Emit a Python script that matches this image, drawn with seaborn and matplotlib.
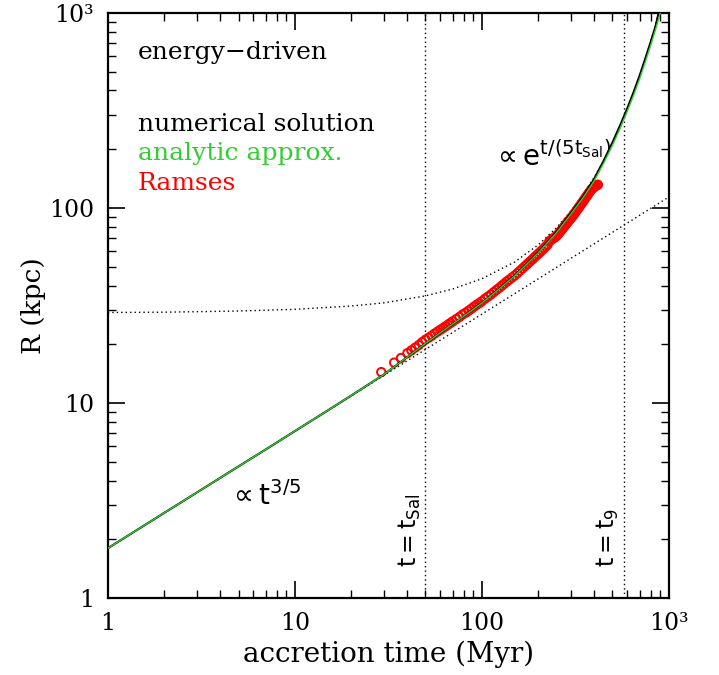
import numpy as np
import pandas as pd
import matplotlib
matplotlib.use("Agg")
import matplotlib.pyplot as plt
import seaborn as sns

# numerical solution
t_num = [1, 2, 3, 5, 7, 10, 15, 20, 30, 40, 50, 60, 70, 80, 100, 120, 150, 200,
         250, 300, 350, 400, 450, 500, 550, 600, 650, 700, 750, 800, 850, 884, 950]
r_num = [1.8, 2.73, 3.48, 4.73, 5.78, 7.17, 9.15, 10.9, 14.0, 17.2, 20.2, 22.9, 25.4,
         27.8, 32.6, 37.5, 45, 59, 75, 94, 115, 141, 175, 216, 265, 323, 393, 478,
         583, 705, 850, 1000, 1300]

# analytic approximation
t_ana = [1, 2, 3, 5, 7, 10, 15, 20, 30, 40, 50, 60, 70, 80, 100, 120, 150, 200,
         250, 300, 350, 400, 450, 500, 550, 600, 650, 700, 750, 800, 850, 900, 950]
r_ana = [1.8, 2.73, 3.48, 4.73, 5.78, 7.17, 9.15, 10.9, 14.0, 17.2, 20.2, 22.9, 25.4,
         27.8, 32.5, 37.4, 44.8, 58.6, 74.2, 93.0, 113.5, 138, 170, 209, 256, 312,
         379, 460, 560, 678, 820, 990, 1200]

# Ramses snapshots
t_ram = [29, 34, 37, 40, 42, 44, 46, 48, 50, 52, 54, 56, 58, 60, 62, 64, 66, 68,
         70, 73, 76, 79, 82, 85, 88, 91, 94, 97, 100, 104, 108, 112, 116, 120, 124,
         128, 132, 136, 140, 145, 150, 155, 160, 165, 170, 175, 180, 185, 190, 195,
         200, 205, 210, 215, 220, 225, 230, 235, 240, 245, 250, 255, 260, 265, 270,
         275, 280, 285, 290, 295, 300, 305, 310, 315, 320, 325, 330, 335, 340, 345,
         350, 355, 360, 365, 370, 375, 380, 385, 390, 395, 400, 405, 410, 415, 418]
r_ram = [14.4, 16.1, 17.0, 18.0, 18.6, 19.2, 19.8, 20.5, 21.1, 21.6, 22.1, 22.7,
         23.2, 23.7, 24.2, 24.7, 25.2, 25.7, 26.2, 26.9, 27.6, 28.4, 29.0, 29.7,
         30.4, 31.2, 31.9, 32.5, 33.2, 34.2, 35.1, 36.0, 37.0, 38.0, 38.9, 39.9,
         40.9, 41.9, 42.8, 43.9, 45.0, 46.3, 47.6, 48.9, 50.2, 51.5, 52.8, 54.1,
         55.4, 56.7, 58.0, 59.3, 60.7, 62.0, 63.4, 64.8, 67.5, 68.5, 69.5, 70.5,
         71.5, 73.0, 74.6, 76.3, 78.0, 79.8, 81.6, 83.3, 85.0, 86.8, 88.5, 90.3,
         92.2, 94.2, 96.2, 98.2, 100.2, 102.3, 104.4, 106.5, 108.6, 110.8, 113.0,
         115.2, 117.4, 119.6, 121.7, 123.8, 125.6, 127.2, 128.5, 129.5, 130.3,
         131.0, 131.5]

# asymptotes (dotted)
t_exp = [1, 2, 5, 10, 20, 30, 50, 70, 100, 150, 200, 250, 300, 350, 400, 450,
         500, 550, 600, 650, 700, 750, 800, 850, 900]
r_exp = [29.1, 29.2, 29.6, 30.2, 31.4, 32.6, 35.4, 38.4, 43.3, 52.8, 64.5, 78.8,
         96.3, 118, 143.6, 175, 214, 261, 319, 389, 476, 581, 710, 867, 1060]
t_pow = [1, 10, 100, 1000]
r_pow = [1.8, 7.17, 28.5, 113.6]

t_sal, t_9 = 50, 575

xticks = [1, 10, 100, 1000]
xlabels = ["1", "10", "100", "10³"]
yticks = [1, 10, 100, 1000]
ylabels = ["1", "10", "100", "10³"]

sns.set_style("ticks")
plt.rcParams["font.family"] = ["DejaVu Serif"]
plt.rcParams["mathtext.fontset"] = "dejavusans"
plt.rcParams.update({"text.color": "black", "axes.labelcolor": "black",
                     "xtick.color": "black", "ytick.color": "black",
                     "axes.edgecolor": "black"})

green = "#33cc33"

fig = plt.figure(figsize=(7.19, 6.75), dpi=100)
ax = fig.add_axes([0.150, 0.114, 0.780, 0.867])
ax.set_xscale("log")
ax.set_yscale("log")

dots = (0, (1, 2.2))
sns.lineplot(x=t_exp, y=r_exp, ax=ax, color="black", lw=1.0, linestyle=dots,
             sort=False, estimator=None)
sns.lineplot(x=t_pow, y=r_pow, ax=ax, color="black", lw=1.0, linestyle=dots,
             sort=False, estimator=None)
ax.axvline(t_sal, color="black", lw=1.0, linestyle=dots)
ax.axvline(t_9, color="black", lw=1.0, linestyle=dots)

sns.scatterplot(x=t_ram, y=r_ram, ax=ax, marker="o", s=36, facecolor="none",
                edgecolor="red", linewidth=1.4, zorder=3)
sns.lineplot(x=t_num, y=r_num, ax=ax, color="black", lw=1.5, zorder=4,
             sort=False, estimator=None)
sns.lineplot(x=t_ana, y=r_ana, ax=ax, color=green, lw=1.0, zorder=5,
             sort=False, estimator=None)

ax.set_xlim(1, 1000)
ax.set_ylim(1, 1000)
ax.set_xticks(xticks)
ax.set_xticklabels(xlabels)
ax.set_yticks(yticks)
ax.set_yticklabels(ylabels)
ax.tick_params(which="both", direction="in", top=True, right=True, labelsize=17)
ax.tick_params(which="major", length=12, width=1.2, pad=10)
ax.tick_params(which="minor", length=6, width=1.0)
for s in ax.spines.values():
    s.set_linewidth(1.6)

ax.set_xlabel("accretion time (Myr)", fontsize=20, labelpad=4)
ax.set_ylabel("R (kpc)", fontsize=19, labelpad=2)

tf = ax.transAxes
ax.text(0.053, 0.932, "energy\u2212driven", transform=tf, fontsize=18, va="center")
ax.text(0.053, 0.810, "numerical solution", transform=tf, fontsize=18, va="center")
ax.text(0.053, 0.760, "analytic approx.", transform=tf, fontsize=18, va="center",
        color=green)
ax.text(0.053, 0.709, "Ramses", transform=tf, fontsize=18, va="center", color="red")

ax.text(0.685, 0.755, r"$\propto \mathrm{e}^{\mathrm{t}/(5\mathrm{t}_{\mathrm{Sal}})}$",
        transform=tf, fontsize=20, va="center", family="DejaVu Sans")
ax.text(0.215, 0.175, r"$\propto \mathrm{t}^{3/5}$", transform=tf, fontsize=20,
        va="center", family="DejaVu Sans")
ax.text(t_sal * 0.97, 1.44, r"$\mathrm{t}=\mathrm{t}_{\mathrm{Sal}}$", rotation=90,
        fontsize=17, ha="right", va="bottom", family="DejaVu Sans")
ax.text(t_9 * 0.97, 1.44, r"$\mathrm{t}=\mathrm{t}_{9}$", rotation=90,
        fontsize=17, ha="right", va="bottom", family="DejaVu Sans")

fig.savefig("out.png", dpi=100)
